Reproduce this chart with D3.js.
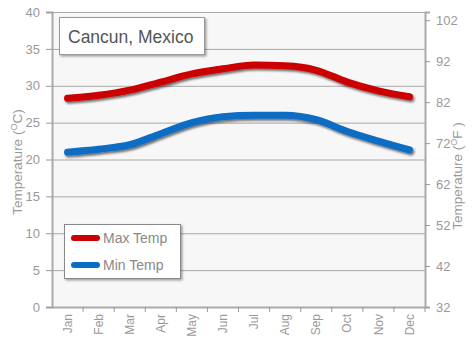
<!DOCTYPE html>
<html><head><meta charset="utf-8">
<script src="https://cdn.jsdelivr.net/npm/d3@7"></script>
<style>body{margin:0;background:#fff}svg{display:block;font-family:"Liberation Sans",Arial,sans-serif}</style>
</head><body><svg id="c" width="474" height="349"></svg>
<script>
const months = ["Jan","Feb","Mar","Apr","May","Jun","Jul","Aug","Sep","Oct","Nov","Dec"];
const maxTemp = [28.3,28.7,29.4,30.5,31.6,32.3,32.8,32.7,32.1,30.5,29.3,28.5];
const minTemp = [21.0,21.4,22.0,23.5,25.0,25.8,26.0,26.0,25.4,23.8,22.5,21.3];
const cTicks = [0,5,10,15,20,25,30,35,40];
const fTicks = [32,42,52,62,72,82,92,102];
const title = "Cancun, Mexico";
const seriesNames = ["Max Temp","Min Temp"];
const colors = ["#cc0000","#0a6cc4"];

const svg = d3.select("#c");
const L=52,R=425,T=12,B=307;
const x = d3.scaleBand().domain(months).range([L,R]);
const y = d3.scaleLinear().domain([0,40]).range([B,T]);
const yF = d3.scaleLinear().domain([32,104]).range([B,T]);

const defs = svg.append("defs");
const f = defs.append("filter").attr("id","sh").attr("x","-20%").attr("y","-50%").attr("width","140%").attr("height","200%");
f.append("feDropShadow").attr("dx",1.5).attr("dy",2).attr("stdDeviation",1.2).attr("flood-color","#000").attr("flood-opacity",0.55);
const f2 = defs.append("filter").attr("id","bs").attr("x","-20%").attr("y","-20%").attr("width","150%").attr("height","150%");
f2.append("feDropShadow").attr("dx",1.5).attr("dy",1.5).attr("stdDeviation",1.2).attr("flood-color","#000").attr("flood-opacity",0.35);

svg.append("rect").attr("x",L).attr("y",T).attr("width",R-L).attr("height",B-T).attr("fill","#f7f7f7");

// grid
svg.append("g").selectAll("line").data(cTicks.filter(d=>d>0)).join("line")
  .attr("x1",L).attr("x2",R).attr("y1",d=>y(d)+0.5).attr("y2",d=>y(d)+0.5)
  .attr("stroke","#a8a8a8").attr("stroke-width",1);

// axes
const gl = svg.append("g").attr("transform",`translate(${L},0)`)
  .call(d3.axisLeft(y).tickValues(cTicks).tickSize(6).tickPadding(6));
const gr = svg.append("g").attr("transform",`translate(${R},0)`)
  .call(d3.axisRight(yF).tickValues(fTicks).tickSize(5).tickPadding(6));
const gb = svg.append("g").attr("transform",`translate(0,${B})`)
  .call(d3.axisBottom(x).tickSize(0).tickPadding(6));
[gl,gr,gb].forEach(g=>{
  g.select(".domain").attr("stroke","#aaa").attr("stroke-width",2);
  g.selectAll(".tick line").attr("stroke","#999");
  g.selectAll("text").attr("fill","#999").attr("font-size",13).attr("font-family","Liberation Sans, Arial, sans-serif");
});
// bottom boundary ticks
svg.append("g").selectAll("line").data(months.slice(1).concat(["_end"])).join("line")
  .attr("x1",d=>d==="_end"?R:x(d)).attr("x2",d=>d==="_end"?R:x(d))
  .attr("y1",B).attr("y2",B+5).attr("stroke","#999");
gb.selectAll(".tick text").attr("font-size",12)
  .attr("transform","rotate(-90)").attr("text-anchor","end")
  .attr("x",-7).attr("y",0).attr("dy","0.35em");

// axis titles
const lt = svg.append("text").attr("transform","translate(22,162) rotate(-90)")
  .attr("text-anchor","middle").attr("fill","#999").attr("font-size",13.5);
lt.append("tspan").text("Temperature (");
lt.append("tspan").attr("dy",-5).attr("font-size",9).text("O");
lt.append("tspan").attr("dy",5).text("C)");
const rt = svg.append("text").attr("transform","translate(462,176) rotate(-90)")
  .attr("text-anchor","middle").attr("fill","#999").attr("font-size",13.5);
rt.append("tspan").text("Temperature (");
rt.append("tspan").attr("dy",-5).attr("font-size",9).text("O");
rt.append("tspan").attr("dy",5).text("F )");

// lines
const line = d3.line().x((d,i)=>x(months[i])+x.bandwidth()/2).y(d=>y(d)).curve(d3.curveMonotoneX);
[maxTemp,minTemp].forEach((s,k)=>{
  svg.append("path").attr("d",line(s)).attr("fill","none").attr("stroke",colors[k])
    .attr("stroke-width",7).attr("stroke-linecap","round").attr("filter","url(#sh)");
});

// title box
svg.append("rect").attr("x",59.5).attr("y",17.5).attr("width",145).attr("height",37)
  .attr("fill","#fff").attr("stroke","#999").attr("filter","url(#bs)");
svg.append("text").attr("x",68).attr("y",43).attr("fill","#555").attr("font-size",17.5).text(title);

// legend
svg.append("rect").attr("x",64.5).attr("y",224.5).attr("width",116).attr("height",54)
  .attr("fill","#fff").attr("stroke","#888").attr("filter","url(#bs)");
seriesNames.forEach((n,k)=>{
  const yy = 238 + k*27;
  svg.append("line").attr("x1",74).attr("x2",97).attr("y1",yy).attr("y2",yy)
    .attr("stroke",colors[k]).attr("stroke-width",6).attr("stroke-linecap","round");
  svg.append("text").attr("x",103).attr("y",yy+5).attr("fill","#888").attr("font-size",14).text(n);
});
</script></body></html>
